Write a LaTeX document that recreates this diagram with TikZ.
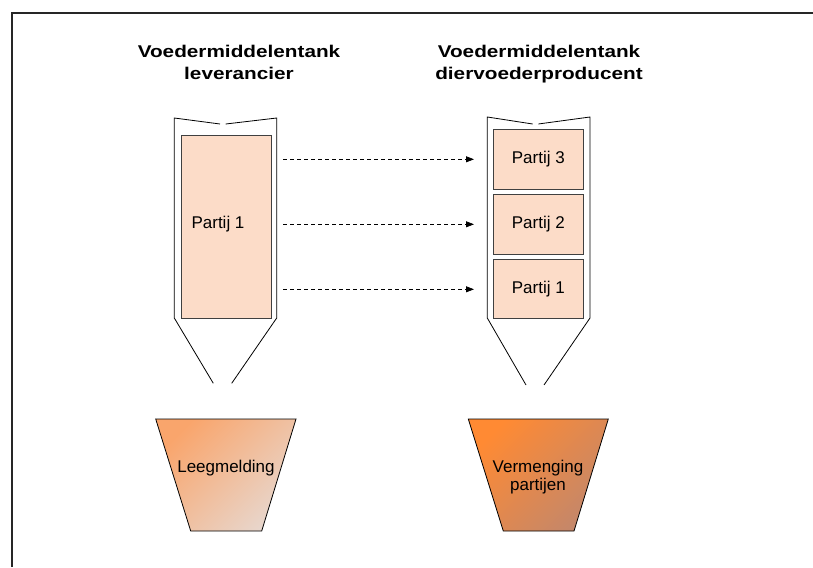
\documentclass[tikz,border=0pt]{standalone}
\usepackage{fontspec}
\setmainfont{Liberation Sans}
\newfontfamily\titlefont[FakeStretch=1.22]{Liberation Sans}
\usetikzlibrary{arrows.meta}
\definecolor{boxfill}{HTML}{FCDCC8}
\definecolor{lbA}{HTML}{F9A56C}
\definecolor{lbB}{HTML}{E8D6CC}
\definecolor{rbA}{HTML}{FF8A33}
\definecolor{rbB}{HTML}{C4876A}
\tikzset{
  pbox/.style={draw=black!75, line width=0.8pt, fill=boxfill, minimum width=90pt, inner sep=0pt,
    font=\fontsize{17}{18}\selectfont},
  silo/.style={draw=black, line width=0.8pt},
  ttl/.style={anchor=base, inner sep=0pt, font=\titlefont\bfseries\fontsize{17}{18}\selectfont},
  lbl/.style={anchor=base, inner sep=0pt, font=\fontsize{17}{18}\selectfont},
  flow/.style={draw=black, line width=0.8pt, dash pattern=on 4pt off 3pt, -{Triangle[length=8pt,width=6pt]}},
}
\begin{document}
\begin{tikzpicture}[x=1pt,y=-1pt]
\useasboundingbox (0,0) rectangle (813,567);
% frame
\draw[line width=1.8pt, black!85] (12,567) -- (12,13) -- (813,13);
% titles
\node[ttl] (t1a) at (239,58) {Voedermiddelentank};
\node[ttl] (t1b) at (239,80) {leverancier};
\node[ttl] (t2a) at (539,58) {Voedermiddelentank};
\node[ttl] (t2b) at (539,80) {diervoederproducent};
% left silo
\draw[silo] (174.3,318) -- (174.3,118) -- (220,124);
\draw[silo] (225.7,124) -- (276.7,118) -- (276.7,318);
\draw[silo] (174.3,318) -- (213.3,383.3);
\draw[silo] (276.7,318) -- (231.7,383.3);
% right silo
\draw[silo] (487.3,318) -- (487.3,117) -- (532.7,124);
\draw[silo] (538.3,124) -- (590,117) -- (590,318);
\draw[silo] (487.3,318) -- (526,385);
\draw[silo] (590,318) -- (544,385);
% boxes
\node[pbox, minimum height=182.6pt] (lp1) at (226,227) {};
\node[lbl] (lp1t) at (218,228.5) {Partij 1};
\node[pbox, minimum height=59.7pt] (rp3) at (538.3,159.2) {Partij 3};
\node[pbox, minimum height=59.7pt] (rp2) at (538.3,224.2) {Partij 2};
\node[pbox, minimum height=59pt] (rp1) at (538.3,288.8) {Partij 1};
% arrows
\coordinate (a1s) at (283,159.3);
\coordinate (a1e) at (474,159.3);
\coordinate (a2s) at (283,224.3);
\coordinate (a2e) at (474,224.3);
\coordinate (a3s) at (283,289.3);
\coordinate (a3e) at (474,289.3);
\draw[flow] (a1s) -- (a1e);
\draw[flow] (a2s) -- (a2e);
\draw[flow] (a3s) -- (a3e);
% buckets
\shadedraw[draw=black, line width=0.8pt, top color=lbA, bottom color=lbB, shading angle=45]
  (155.7,419) -- (296,419) -- (261.7,531) -- (190.7,531) -- cycle;
\shadedraw[draw=black, line width=0.8pt, top color=rbA, bottom color=rbB, shading angle=45]
  (468.3,419) -- (608.3,419) -- (574,531) -- (503.3,531) -- cycle;
\node[lbl] (b1) at (226,472) {Leegmelding};
\node[lbl] (b2a) at (538,472) {Vermenging};
\node[lbl] (b2b) at (538,490) {partijen};
\end{tikzpicture}
\end{document}
